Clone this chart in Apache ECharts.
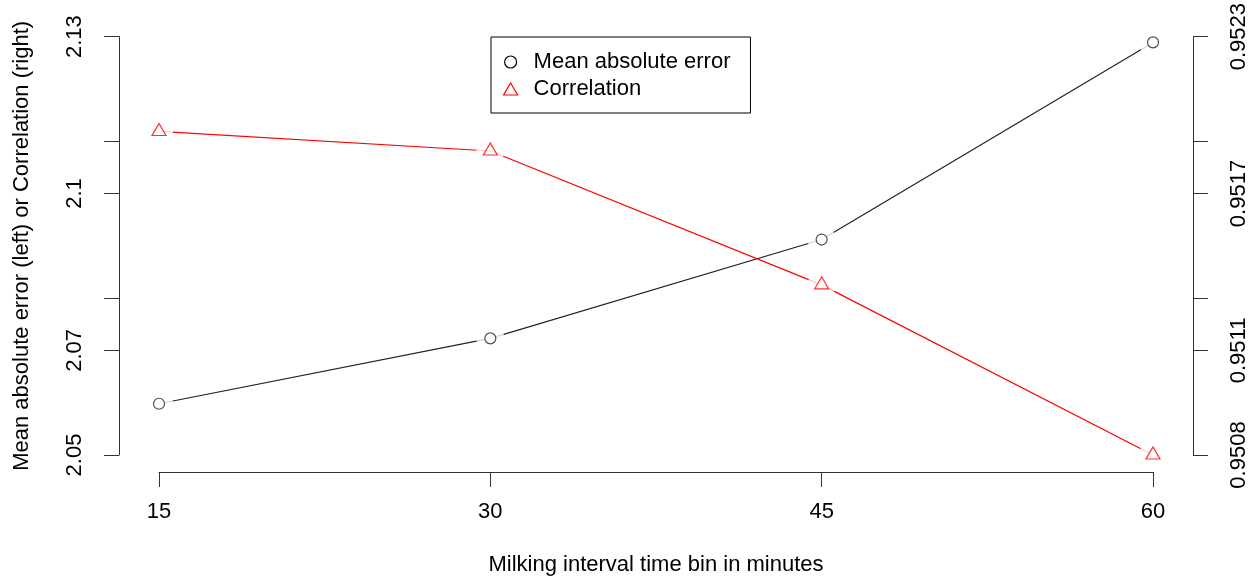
<!DOCTYPE html>
<html>
<head>
<meta charset="utf-8">
<script src="https://cdn.jsdelivr.net/npm/echarts@6/dist/echarts.min.js"></script>
<style>
  html, body { margin: 0; padding: 0; background: #fff; }
  #chart { width: 1255px; height: 581px; }
</style>
</head>
<body>
<div id="chart"></div>
<script>
// Milking interval time bins (minutes)
const bins = [15, 30, 45, 60];
// Mean absolute error for each bin (left axis)
const maeValues = [2.0598, 2.0723, 2.0912, 2.1289];
// Correlation for each bin (right axis)
const corValues = [0.95196, 0.95189, 0.95141, 0.95080];

// Axis ranges, ticks and tick labels
const xTicks = [15, 30, 45, 60];
const leftRange = [2.05, 2.13];
const leftTicks = [2.05, 2.07, 2.08, 2.1, 2.11, 2.13];
const leftLabels = [2.05, 2.07, 2.1, 2.13];
const rightRange = [0.9508, 0.9523];
const rightTickLabels = ['0.9508', '0.9511', '0.9514', '0.9517', '0.952', '0.9523'];
const rightLabelsShown = ['0.9508', '0.9511', '0.9517', '0.9523'];

const FONT = "'Liberation Sans', Arial, Helvetica, sans-serif";
const INK = '#000';
const LINE_INK = '#222';
const RED = '#ff0000';

// Right-axis ticks sit at the same heights as the left-axis ticks.
const rightTicks = leftTicks.map(v =>
  rightRange[0] + (v - leftRange[0]) / (leftRange[1] - leftRange[0]) * (rightRange[1] - rightRange[0]));
const rightLabelValues = rightTicks.filter((_, i) => rightLabelsShown.includes(rightTickLabels[i]));
function rightLabelFor(value) {
  let best = 0;
  rightTicks.forEach((t, i) => {
    if (Math.abs(t - value) < Math.abs(rightTicks[best] - value)) best = i;
  });
  return rightTickLabels[best];
}

const maeData = bins.map((b, i) => [b, maeValues[i]]);
const corData = bins.map((b, i) => [b, corValues[i]]);

const axisLine = { show: true, onZero: false, lineStyle: { color: '#333', width: 1 } };
const axisTick = { show: true, length: 15, lineStyle: { color: '#333', width: 1 } };
const labelText = { fontSize: 22, color: INK, fontFamily: FONT };

const chart = echarts.init(document.getElementById('chart'), null, { renderer: 'canvas' });

chart.setOption({
  animation: false,
  backgroundColor: '#fff',
  textStyle: { fontFamily: FONT },
  grid: { left: 159, right: 102, top: 36, bottom: 124 },
  legend: {
    orient: 'vertical',
    left: 491,
    top: 37,
    padding: [14, 20, 13, 12],
    itemGap: 5,
    itemWidth: 14,
    itemHeight: 12,
    borderColor: INK,
    borderWidth: 1,
    borderRadius: 0,
    backgroundColor: '#fff',
    textStyle: { fontSize: 22, color: INK, fontFamily: FONT, lineHeight: 22, padding: [0, 0, 0, 11] },
    data: [
      { name: 'Mean absolute error', icon: 'circle',
        itemStyle: { color: '#fff', borderColor: INK, borderWidth: 1.2 } },
      { name: 'Correlation', icon: 'triangle',
        itemStyle: { color: '#fff', borderColor: RED, borderWidth: 1.2 } }
    ]
  },
  xAxis: {
    type: 'value',
    min: xTicks[0],
    max: xTicks[xTicks.length - 1],
    interval: 15,
    offset: 17,
    name: 'Milking interval time bin in minutes',
    nameLocation: 'middle',
    nameGap: 82,
    nameTextStyle: labelText,
    axisLine: axisLine,
    axisTick: axisTick,
    axisLabel: Object.assign({ margin: 29 }, labelText),
    splitLine: { show: false }
  },
  yAxis: [
    {
      type: 'value',
      position: 'left',
      offset: 40,
      min: leftRange[0],
      max: leftRange[1],
      name: 'Mean absolute error (left) or Correlation (right)',
      nameLocation: 'middle',
      nameRotate: 90,
      nameGap: 86,
      nameTextStyle: labelText,
      axisLine: axisLine,
      axisTick: Object.assign({ customValues: leftTicks }, axisTick),
      axisLabel: Object.assign({
        customValues: leftLabels,
        rotate: 90,
        margin: 33,
        formatter: v => String(+v.toFixed(2))
      }, labelText),
      splitLine: { show: false }
    },
    {
      type: 'value',
      position: 'right',
      offset: 40,
      min: rightRange[0],
      max: rightRange[1],
      axisLine: axisLine,
      axisTick: Object.assign({ customValues: rightTicks }, axisTick),
      axisLabel: Object.assign({
        customValues: rightLabelValues,
        rotate: 90,
        margin: 35,
        formatter: v => rightLabelFor(v)
      }, labelText),
      splitLine: { show: false }
    }
  ],
  series: [
    {
      name: 'Mean absolute error', type: 'line', yAxisIndex: 0, data: maeData,
      symbol: 'none', clip: false, z: 2, silent: true,
      lineStyle: { color: LINE_INK, width: 1.2 }, itemStyle: { color: LINE_INK }
    },
    {
      name: 'Correlation', type: 'line', yAxisIndex: 1, data: corData,
      symbol: 'none', clip: false, z: 2, silent: true,
      lineStyle: { color: RED, width: 1.2 }, itemStyle: { color: RED }
    },
    // white discs leave a small gap in each line around its points
    {
      type: 'scatter', yAxisIndex: 0, data: maeData, symbol: 'circle', symbolSize: 28,
      itemStyle: { color: '#fff' }, z: 3, clip: false, silent: true, emphasis: { disabled: true }
    },
    {
      type: 'scatter', yAxisIndex: 1, data: corData, symbol: 'circle', symbolSize: 28,
      itemStyle: { color: '#fff' }, z: 3, clip: false, silent: true, emphasis: { disabled: true }
    },
    {
      name: 'Mean absolute error', type: 'scatter', yAxisIndex: 0, data: maeData,
      symbol: 'circle', symbolSize: 11, z: 4, clip: false, emphasis: { disabled: true },
      itemStyle: { color: '#fff', borderColor: LINE_INK, borderWidth: 1.2 }
    },
    {
      name: 'Correlation', type: 'scatter', yAxisIndex: 1, data: corData,
      symbol: 'triangle', symbolSize: [14, 12], symbolOffset: [0, -2], z: 4, clip: false,
      emphasis: { disabled: true },
      itemStyle: { color: '#fff', borderColor: RED, borderWidth: 1.2 }
    }
  ]
});
</script>
</body>
</html>
